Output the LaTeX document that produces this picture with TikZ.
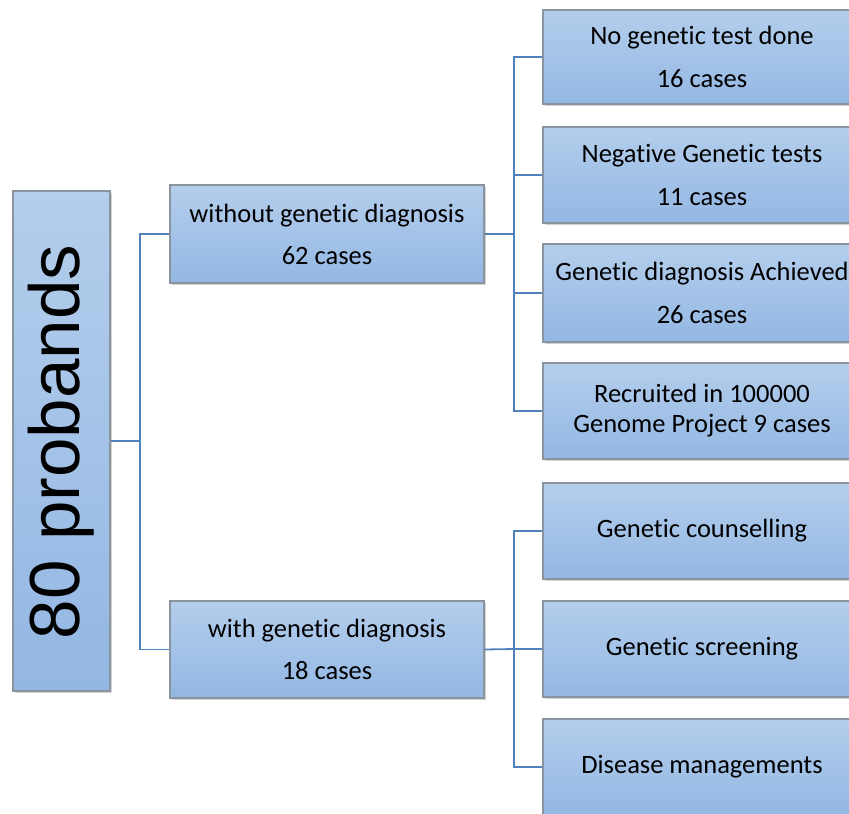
\documentclass[tikz,border=0pt]{standalone}
\usepackage{fontspec}
\setmainfont[Ligatures=NoCommon]{Carlito}
\newfontfamily\arialf{Liberation Sans}
\usetikzlibrary{shadows}
\definecolor{linec}{HTML}{4F81BD}
\definecolor{boxtop}{HTML}{B4CEEC}
\definecolor{boxbot}{HTML}{93B7E3}
\definecolor{boxedge}{HTML}{8A949E}
\tikzset{
  box/.style={draw=boxedge, line width=1.2pt, top color=boxtop, bottom color=boxbot,
    drop shadow={shadow xshift=1.5pt, shadow yshift=-1.5pt, fill=black!35, opacity=0.5},
    align=center, inner sep=0pt, font=\fontsize{26.5}{32}\selectfont},
  conn/.style={draw=linec, line width=1.8pt},
}
\begin{document}
\begin{tikzpicture}[x=1pt,y=-1pt]
\useasboundingbox (0,0) rectangle (849,814);
\begin{scope}
\clip (0,0) rectangle (849,814);
\node[box, minimum width=97pt, minimum height=500pt] (root) at (61.5,441) {};
\node[rotate=90, font=\arialf\fontsize{71}{80}\selectfont] (roottext) at (61.5,442) {80 probands};
\node[box, minimum width=314pt, minimum height=98pt] (A) at (327,234) {without genetic diagnosis\\[10pt]62 cases};
\node[box, minimum width=314pt, minimum height=97pt] (B) at (327,649.5) {with genetic diagnosis\\[10pt]18 cases};
\node[box, minimum width=318pt, minimum height=94pt] (r1) at (702,57) {No genetic test done\\[11pt]16 cases};
\node[box, minimum width=318pt, minimum height=96pt] (r2) at (702,175) {Negative Genetic tests\\[11pt]11 cases};
\node[box, minimum width=318pt, minimum height=98pt] (r3) at (702,293) {Genetic diagnosis Achieved\\[11pt]26 cases};
\node[box, minimum width=318pt, minimum height=96pt] (r4) at (702,411) {Recruited in 100000\\[-2pt]Genome Project 9 cases};
\node[box, minimum width=318pt, minimum height=96pt] (r5) at (702,531) {Genetic counselling};
\node[box, minimum width=318pt, minimum height=96pt] (r6) at (702,649) {Genetic screening};
\node[box, minimum width=318pt, minimum height=96pt] (r7) at (702,767) {Disease managements};
\end{scope}
\coordinate (j0) at (140,441);
\coordinate (j1) at (514,234);
\coordinate (j2) at (514,649);
\draw[conn] (root.east |- j0) -- (j0);
\draw[conn] (j0) |- (A.west);
\draw[conn] (j0) |- (B.west);
\draw[conn] (A.east) -- (j1);
\draw[conn] (j1) |- (r1.west);
\draw[conn] (j1) |- (r2.west);
\draw[conn] (j1) |- (r3.west);
\draw[conn] (j1) |- (r4.west);
\draw[conn] (B.east) -- (j2);
\draw[conn] (j2) |- (r5.west);
\draw[conn] (j2) |- (r6.west);
\draw[conn] (j2) |- (r7.west);
\end{tikzpicture}
\end{document}
